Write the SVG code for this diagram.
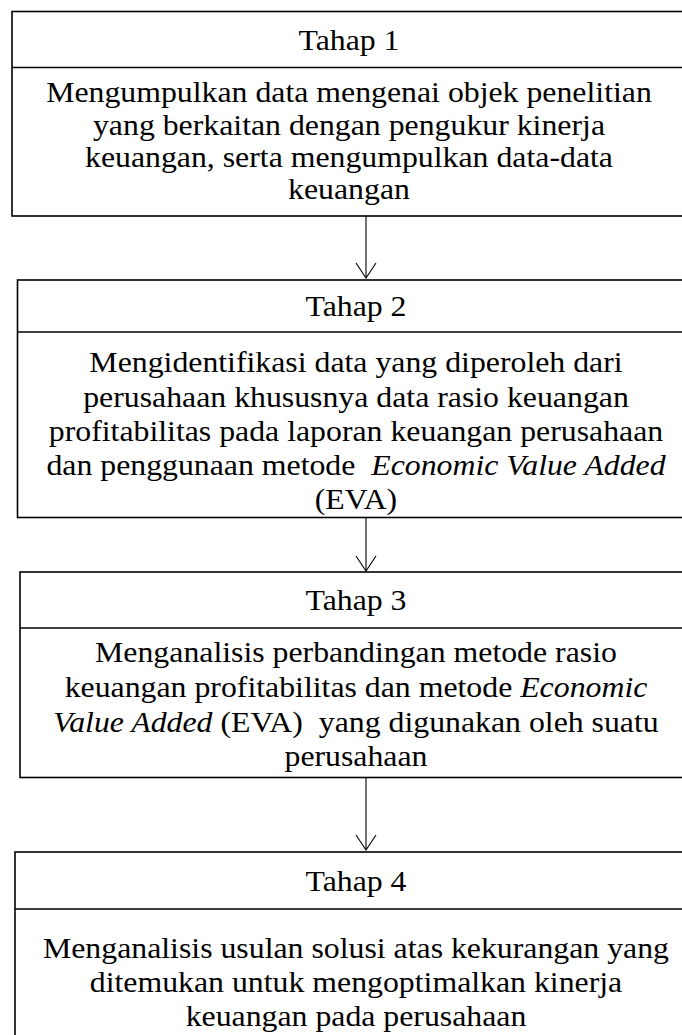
<svg xmlns="http://www.w3.org/2000/svg" width="682" height="1035" viewBox="0 0 682 1035">
<style>
.box{fill:#fff;stroke:#000;stroke-width:1.6}
.div{stroke:#000;stroke-width:1.6}
.t{font-family:"Liberation Serif","Times New Roman",serif;font-size:30px;fill:#000;text-anchor:middle}
.i{font-style:italic}
.conn{stroke:#000;stroke-width:1.1;fill:none}
</style>
<defs>
<marker id="arr" markerUnits="userSpaceOnUse" markerWidth="24" markerHeight="24" viewBox="0 0 24 24" refX="16" refY="11" orient="auto">
<path d="M1,1 L16,11 L1,21" fill="none" stroke="#000" stroke-width="1.1"/>
</marker>
</defs>
<rect width="682" height="1035" fill="#fff"/>
<g id="connectors">
<line class="conn" x1="366" y1="216" x2="366" y2="278" marker-end="url(#arr)"/>
<line class="conn" x1="366" y1="516" x2="366" y2="571" marker-end="url(#arr)"/>
<line class="conn" x1="366" y1="778" x2="366" y2="850" marker-end="url(#arr)"/>
</g>
<g id="tahap1">
<rect class="box" x="12" y="11.5" width="700" height="204.5"/>
<line class="div" x1="12" y1="67.5" x2="712" y2="67.5"/>
<g transform="matrix(1.06 0 0 1 -20.94 0)">
<text class="t" x="349" y="50">Tahap 1</text>
<text class="t" x="349" y="102">Mengumpulkan data mengenai objek penelitian</text>
<text class="t" x="349" y="134.5">yang berkaitan dengan pengukur kinerja</text>
<text class="t" x="349" y="167">keuangan, serta mengumpulkan data-data</text>
<text class="t" x="349" y="199.5">keuangan</text>
</g>
</g>
<g id="tahap2">
<rect class="box" x="17.5" y="280" width="700" height="237.5"/>
<line class="div" x1="17.5" y1="332" x2="717" y2="332"/>
<g transform="matrix(1.06 0 0 1 -21.36 0)">
<text class="t" x="356" y="316">Tahap 2</text>
<text class="t" x="356" y="372">Mengidentifikasi data yang diperoleh dari</text>
<text class="t" x="356" y="407">perusahaan khususnya data rasio keuangan</text>
<text class="t" x="356" y="441">profitabilitas pada laporan keuangan perusahaan</text>
<text class="t" x="356" y="475" xml:space="preserve">dan penggunaan metode  <tspan class="i">Economic Value Added</tspan></text>
<text class="t" x="356" y="509">(EVA)</text>
</g>
</g>
<g id="tahap3">
<rect class="box" x="20" y="572" width="700" height="205.5"/>
<line class="div" x1="20" y1="628" x2="720" y2="628"/>
<g transform="matrix(1.06 0 0 1 -21.36 0)">
<text class="t" x="356" y="610">Tahap 3</text>
<text class="t" x="356" y="662">Menganalisis perbandingan metode rasio</text>
<text class="t" x="356" y="697">keuangan profitabilitas dan metode <tspan class="i">Economic</tspan></text>
<text class="t" x="356" y="732" xml:space="preserve"><tspan class="i">Value Added</tspan> (EVA)  yang digunakan oleh suatu</text>
<text class="t" x="356" y="766">perusahaan</text>
</g>
</g>
<g id="tahap4">
<rect class="box" x="15" y="852" width="700" height="200"/>
<line class="div" x1="15" y1="909" x2="715" y2="909"/>
<g transform="matrix(1.06 0 0 1 -21.36 0)">
<text class="t" x="356" y="891">Tahap 4</text>
<text class="t" x="356" y="958">Menganalisis usulan solusi atas kekurangan yang</text>
<text class="t" x="356" y="992">ditemukan untuk mengoptimalkan kinerja</text>
<text class="t" x="356" y="1026">keuangan pada perusahaan</text>
</g>
</g>
</svg>
